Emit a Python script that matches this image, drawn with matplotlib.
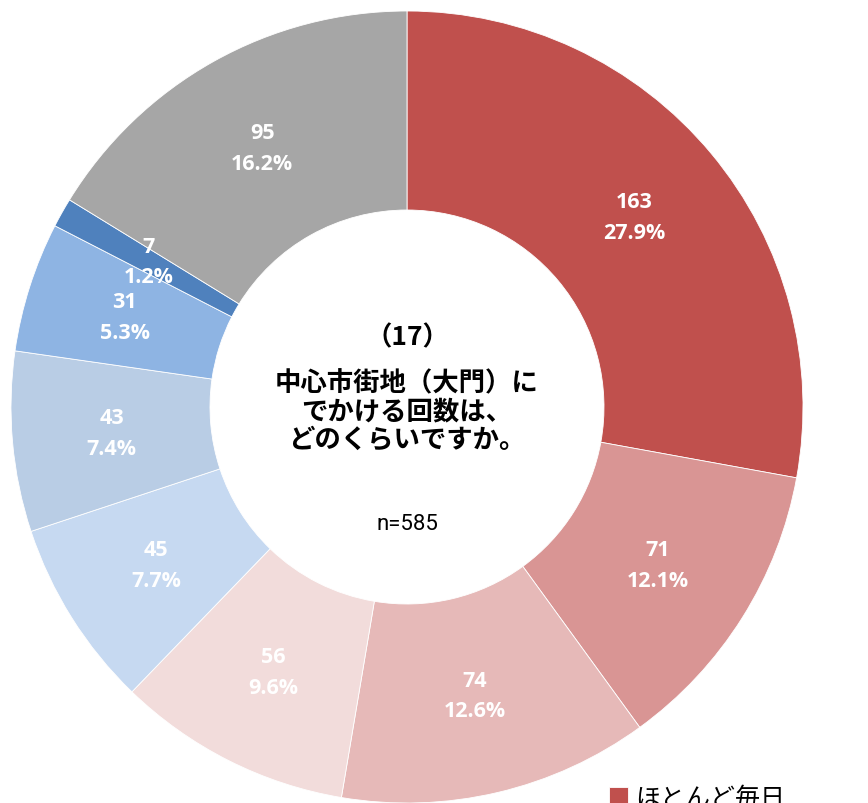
import matplotlib.pyplot as plt

plt.rcParams["font.family"] = ["Noto Sans CJK JP", "DejaVu Sans"]

counts = [163, 71, 74, 56, 45, 43, 31, 7, 95]
colors = ["#C0504D", "#D99594", "#E6B9B8", "#F2DCDB", "#C6D9F1",
          "#B9CDE5", "#8EB4E3", "#4F81BD", "#A6A6A6"]
legend_label = "ほとんど毎日"
title_lines = "（17）"
question = "中心市街地（大門）に\nでかける回数は、\nどのくらいですか。"
n_text = "n=585"

total = sum(counts)

W, H = 868, 804
cx, cy, R, r = 407, 408, 396, 197

fig = plt.figure(figsize=(W / 100, H / 100), dpi=100)
ax = fig.add_axes([(cx - R) / W, (H - cy - R) / H, 2 * R / W, 2 * R / H])


def fmt(p):
    return f"{round(p * total / 100)}\n{p:.1f}%"


wedges, texts, autotexts = ax.pie(
    counts,
    colors=colors,
    startangle=90,
    counterclock=False,
    radius=1,
    autopct=fmt,
    pctdistance=(1 + r / R) / 2,
    wedgeprops=dict(width=1 - r / R, edgecolor="white", linewidth=0.6),
    textprops=dict(color="white", fontsize=15.5, fontweight="bold",
                   family=["Open Sans", "DejaVu Sans"], linespacing=1.6),
)
ax.set_xlim(-1, 1)
ax.set_ylim(-1, 1)
ax.axis("off")

ax.text(0, (cy - 338) / R, title_lines, ha="center", va="center",
        fontsize=19, fontweight="bold")
ax.text(0, (cy - 412) / R, question, ha="center", va="center",
        fontsize=19, fontweight="bold", linespacing=1.05)
ax.text(0, (cy - 525) / R, n_text, ha="center", va="center",
        fontsize=16, family=["Roboto", "DejaVu Sans"], fontstretch="condensed")

fig.legend([wedges[0]], [legend_label], loc="upper left",
           bbox_to_anchor=(609 / W, 1 - 786 / H), frameon=False,
           borderpad=0, borderaxespad=0,
           fontsize=18, handlelength=0.75, handleheight=0.75, handletextpad=0.3)

fig.savefig("out.png", dpi=100)
